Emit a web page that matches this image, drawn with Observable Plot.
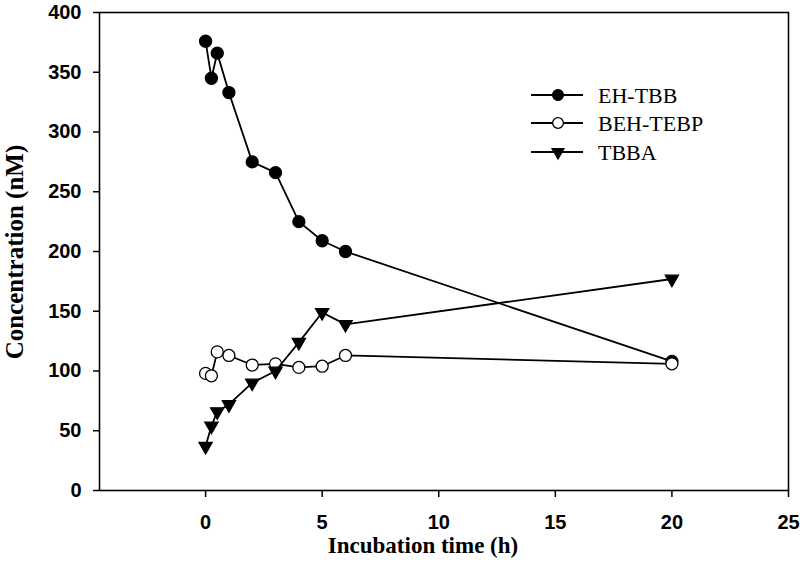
<!DOCTYPE html>
<html><head><meta charset="utf-8">
<script src="https://cdn.jsdelivr.net/npm/d3@7"></script>
<script src="https://cdn.jsdelivr.net/npm/@observablehq/plot@0.6"></script>
<style>body{margin:0;background:#fff}</style>
</head><body><div id="chart"></div>
<script>
// ---- data ----
const times = [0, 0.25, 0.5, 1, 2, 3, 4, 5, 6, 20];
const ehTbb = [376, 345, 366, 333, 275, 266, 225, 209, 200, 108];
const behTebp = [98, 96, 116, 113, 105, 106, 103, 104, 113, 106];
const tbba = [37, 54, 66, 72, 90, 100, 124, 149, 139, 177];
const seriesNames = ["EH-TBB", "BEH-TEBP", "TBBA"];
const xTicks = [0, 5, 10, 15, 20, 25];
const yTicks = [0, 50, 100, 150, 200, 250, 300, 350, 400];
const xTitle = "Incubation time (h)";
const yTitle = "Concentration (nM)";

// ---- styles ----
const seriesValues = [ehTbb, behTebp, tbba];
const styles = [
  {fill: "black", symbol: "circle", rotate: 0, r: 6},
  {fill: "white", symbol: "circle", rotate: 0, r: 6},
  {fill: "black", symbol: "triangle", rotate: 180, r: 4.9}
];
const series = seriesNames.map((name, i) => ({
  name, style: styles[i],
  rows: times.map((t, j) => ({t, v: seriesValues[i][j]}))
}));

const marks = [];
for (const s of series) {
  marks.push(Plot.line(s.rows, {x: "t", y: "v", stroke: "black", strokeWidth: 1.8}));
  marks.push(Plot.dot(s.rows, {x: "t", y: "v", symbol: s.style.symbol, r: s.style.r,
    rotate: s.style.rotate, fill: s.style.fill, stroke: "black", strokeWidth: 1.3}));
}

const chart = Plot.plot({
  width: 800, height: 581,
  marginLeft: 99, marginRight: 12, marginTop: 12, marginBottom: 91,
  style: {fontFamily: "'Liberation Sans', Arial, sans-serif", fontSize: "20px", fontWeight: "bold", background: "white", color: "black"},
  x: {domain: [-4.55, 25]},
  y: {domain: [0, 400]},
  marks: [
    Plot.axisX({ticks: xTicks, tickSize: 7, tickPadding: 17, label: null, strokeWidth: 1.5}),
    Plot.axisY({ticks: yTicks, tickSize: 6, tickPadding: 12, label: null, strokeWidth: 1.5}),
    ...marks,
    Plot.frame({stroke: "black", strokeWidth: 1.6})
  ]
});
document.getElementById("chart").appendChild(chart);

// ---- titles ----
const svg = d3.select(chart);
svg.append("text").text(xTitle)
  .attr("x", 423).attr("y", 553).attr("text-anchor", "middle")
  .style("font-family", "'Liberation Serif'").style("font-weight", "bold").style("font-size", "23px")
  .attr("fill", "black");
svg.append("text").text(yTitle)
  .attr("transform", "translate(23,252) rotate(-90)").attr("text-anchor", "middle")
  .style("font-family", "'Liberation Serif'").style("font-weight", "bold").style("font-size", "25px")
  .attr("fill", "black");

// ---- legend ----
const legendRows = [95, 123, 152];
const lg = svg.append("g");
series.forEach((s, i) => {
  const y = legendRows[i];
  lg.append("line").attr("x1", 531).attr("x2", 583).attr("y1", y).attr("y2", y)
    .attr("stroke", "black").attr("stroke-width", 2);
  const sym = s.style.symbol === "circle" ? d3.symbolCircle : d3.symbolTriangle;
  const rr = s.style.r * 0.9;
  lg.append("path").attr("d", d3.symbol(sym, rr * rr * Math.PI)())
    .attr("transform", `translate(558,${y}) rotate(${s.style.rotate})`)
    .attr("fill", s.style.fill).attr("stroke", "black").attr("stroke-width", 1.3);
  lg.append("text").text(s.name).attr("x", 598).attr("y", y).attr("dy", "0.35em")
    .attr("text-anchor", "start")
    .style("font-family", "'Liberation Serif'").style("font-weight", "normal").style("font-size", "22px")
    .attr("fill", "black");
});
</script>
</body></html>
